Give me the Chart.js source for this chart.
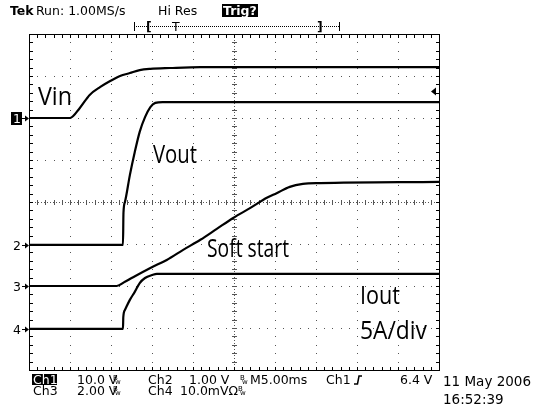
<!DOCTYPE html>
<html>
<head>
<meta charset="utf-8">
<script src="https://cdn.jsdelivr.net/npm/chart.js@4/dist/chart.umd.min.js"></script>
<style>
  html, body { margin: 0; padding: 0; background: #fff; }
  canvas { display: block; }
</style>
</head>
<body>
<canvas id="scope" width="535" height="405"></canvas>
<script>
// time base: 5 ms/div, 10 divisions
var timeMin = 0
var timeMax = 50

// Ch1 - Vin (10 V/div, ground 2.0 div above centre)
var vinTime = [0, 5.0, 6.2, 7.4, 8.7, 9.9, 11.1, 12.3, 13.5, 14.8, 17.2, 20.9, 50]
var vinVolts = [0, 0, 2.4, 5.5, 7.4, 8.8, 10.0, 10.7, 11.4, 11.7, 11.9, 12.1, 12.1]

// Ch2 - Vout (1 V/div)
var voutTime = [0, 11.46, 11.52, 11.7, 12.3, 12.9, 13.5, 14.15, 14.8, 15.4, 16.3, 50]
var voutVolts = [0, 0, 0.76, 1.02, 1.66, 2.21, 2.69, 3.04, 3.28, 3.38, 3.40, 3.40]

// Ch3 - soft start (2 V/div)
var ssTime = [0, 10.7, 11.7, 12.7, 14.8, 16.8, 18.8, 20.9, 22.9, 24.9, 27.0, 29.0, 30.2, 31.8, 33.4, 35.5, 50]
var ssVolts = [0, 0, 0.2, 0.42, 0.86, 1.24, 1.72, 2.2, 2.72, 3.24, 3.72, 4.2, 4.42, 4.72, 4.86, 4.9, 4.96]

// Ch4 - Iout (5 A/div)
var ioutTime = [0, 11.46, 11.5, 11.7, 12.3, 12.9, 13.5, 14.15, 15.0, 15.6, 50]
var ioutAmps = [0, 0, 1.4, 2.25, 3.45, 4.4, 5.45, 6.05, 6.4, 6.55, 6.55]

// channel settings: ground position (div) and units per division
var chNames = ['1', '2', '3', '4']
var chPos = [2.0, -1.02, -2.0, -3.02]
var chPerDiv = [10, 1, 2, 5]
var trigLevel = 6.4 // V on Ch1

var traceLabels = ['Vin', 'Vout', 'Soft start', 'Iout']

var toPoints = function(times, vals, ch){
  var pts = []
  for (let i = 0; i < times.length; i++) {
    pts.push({x: times[i], y: chPos[ch] + vals[i] / chPerDiv[ch]})
  }
  return pts
}

var trace = function(label, pts){
  return {
    label: label,
    data: pts,
    borderColor: '#000',
    borderWidth: 2.2,
    pointRadius: 0,
    fill: false,
    cubicInterpolationMode: 'monotone'
  }
}

var statusFont = '12.5px "DejaVu Sans"'
var noteFont = '26px "Open Sans", sans-serif'

var scopePlugin = {
  id: 'scope',
  beforeDatasetsDraw: function(chart){
    var ctx = chart.ctx, x = chart.scales.x, y = chart.scales.y
    var L = Math.round(x.getPixelForValue(timeMin)), R = Math.round(x.getPixelForValue(timeMax))
    var T = Math.round(y.getPixelForValue(4)), B = Math.round(y.getPixelForValue(-4))
    ctx.save()
    ctx.fillStyle = '#555'
    // dotted major grid
    for (let i = 1; i < 10; i++) {
      if (i == 5) continue
      let px = Math.round(x.getPixelForValue(i * 5))
      for (let j = 1; j < 40; j++) {
        ctx.fillRect(px, Math.round(y.getPixelForValue(-4 + j * 0.2)), 1, 1)
      }
    }
    for (let j = 1; j < 8; j++) {
      if (j == 4) continue
      let py = Math.round(y.getPixelForValue(-4 + j))
      for (let i = 1; i < 50; i++) {
        ctx.fillRect(Math.round(x.getPixelForValue(i)), py, 1, 1)
      }
    }
    // centre cross with minor ticks
    var cx = Math.round(x.getPixelForValue(25)), cy = Math.round(y.getPixelForValue(0))
    for (let p = L; p < R; p += 3) ctx.fillRect(p, cy, 1, 1)
    for (let p = T; p < B; p += 3) ctx.fillRect(cx, p, 1, 1)
    for (let i = 1; i < 50; i++) ctx.fillRect(Math.round(x.getPixelForValue(i)), cy - 2, 1, 5)
    for (let j = 1; j < 40; j++) ctx.fillRect(cx - 2, Math.round(y.getPixelForValue(-4 + j * 0.2)), 5, 1)
    // frame
    ctx.fillStyle = '#000'
    ctx.strokeStyle = '#000'
    ctx.lineWidth = 1
    ctx.strokeRect(L + 0.5, T + 0.5, R - L, B - T)
    for (let i = 1; i < 50; i++) {
      let px = Math.round(x.getPixelForValue(i))
      ctx.fillRect(px, T, 1, 4)
      ctx.fillRect(px, B - 3, 1, 4)
    }
    for (let j = 1; j < 40; j++) {
      let py = Math.round(y.getPixelForValue(-4 + j * 0.2))
      ctx.fillRect(L, py, 4, 1)
      ctx.fillRect(R - 3, py, 4, 1)
    }
    ctx.restore()
  },
  afterDraw: function(chart){
    var ctx = chart.ctx, x = chart.scales.x, y = chart.scales.y
    var L = Math.round(x.getPixelForValue(timeMin)), R = Math.round(x.getPixelForValue(timeMax))
    ctx.save()
    ctx.fillStyle = '#000'
    ctx.strokeStyle = '#000'
    ctx.textBaseline = 'alphabetic'

    // trace annotations (narrow face, squeezed like the original)
    ctx.font = noteFont
    ctx.fillText(traceLabels[0], 38, 105, 34)
    ctx.fillText(traceLabels[1], 153, 163, 44)
    ctx.fillText(traceLabels[2], 207, 257, 82)
    ctx.fillText(traceLabels[3], 360, 304, 40)
    ctx.fillText('5A/div', 360, 339, 67)

    // channel ground markers
    ctx.font = statusFont
    for (let k = 0; k < chNames.length; k++) {
      let py = Math.round(y.getPixelForValue(chPos[k]))
      if (k == 0) {
        ctx.fillRect(11, py - 6, 11, 13)
        ctx.fillStyle = '#fff'
        ctx.fillText(chNames[k], 13, py + 5)
        ctx.fillStyle = '#000'
      } else {
        ctx.fillText(chNames[k], 13, py + 5)
      }
      ctx.beginPath()
      ctx.moveTo(22, py + 0.5)
      ctx.lineTo(26, py + 0.5)
      ctx.stroke()
      ctx.beginPath()
      ctx.moveTo(L, py + 0.5)
      ctx.lineTo(L - 4, py - 2.5)
      ctx.lineTo(L - 4, py + 3.5)
      ctx.closePath()
      ctx.fill()
    }

    // trigger level marker
    var ty = Math.round(y.getPixelForValue(chPos[0] + trigLevel / chPerDiv[0]))
    ctx.beginPath()
    ctx.moveTo(R - 8, ty + 0.5)
    ctx.lineTo(R - 3, ty - 3.5)
    ctx.lineTo(R - 3, ty + 4.5)
    ctx.closePath()
    ctx.fill()

    // top status line
    ctx.font = 'bold ' + statusFont
    ctx.fillText('Tek', 10, 15)
    ctx.font = statusFont
    ctx.fillText('Run: 1.00MS/s', 36, 15)
    ctx.fillText('Hi Res', 158, 15)
    ctx.fillRect(222, 4, 36, 13)
    ctx.fillStyle = '#fff'
    ctx.font = 'bold ' + statusFont
    ctx.fillText('Trig?', 223, 15)
    ctx.fillStyle = '#000'

    // record length bar
    for (let p = 134; p <= 339; p += 2) ctx.fillRect(p, 26, 1, 1)
    ctx.fillRect(134, 22, 1, 9)
    ctx.fillRect(339, 22, 1, 9)
    ctx.font = 'bold ' + statusFont
    ctx.fillText('[', 146, 31)
    ctx.fillText(']', 317, 31)
    ctx.font = statusFont
    ctx.fillText('T', 172, 31)

    // bottom settings readout
    var bw = function(px, py){
      ctx.font = '7px "DejaVu Sans"'
      ctx.fillText('B', px, py - 4)
      ctx.fillText('w', px + 2, py)
      ctx.font = statusFont
    }
    ctx.font = statusFont
    ctx.fillRect(32, 374, 25, 11)
    ctx.fillStyle = '#fff'
    ctx.fillText('Ch1', 33, 384)
    ctx.fillStyle = '#000'
    ctx.fillText('10.0 V', 77, 384)
    bw(113, 384)
    ctx.fillText('Ch2', 148, 384)
    ctx.fillText('1.00 V', 189, 384)
    bw(240, 384)
    ctx.fillText('M5.00ms', 250, 384)
    ctx.fillText('Ch1', 326, 384)
    ctx.lineWidth = 1.5
    ctx.beginPath()
    ctx.moveTo(354, 384)
    ctx.lineTo(357.5, 384)
    ctx.lineTo(359, 376)
    ctx.lineTo(362, 376)
    ctx.stroke()
    ctx.fillText('6.4 V', 400, 384)

    ctx.fillText('Ch3', 33, 395)
    ctx.fillText('2.00 V', 77, 395)
    bw(113, 395)
    ctx.fillText('Ch4', 148, 395)
    ctx.fillText('10.0mV\u03A9', 180, 395)
    bw(238, 395)

    ctx.font = '13.5px "DejaVu Sans"'
    ctx.fillText('11 May 2006', 443, 386)
    ctx.fillText('16:52:39', 443, 404)
    ctx.restore()
  }
}

var ctx = document.getElementById('scope')

var scopeChart = new Chart(ctx, {
  type: 'line',
  data: {
    datasets: [
      trace(traceLabels[0], toPoints(vinTime, vinVolts, 0)),
      trace(traceLabels[1], toPoints(voutTime, voutVolts, 1)),
      trace(traceLabels[2], toPoints(ssTime, ssVolts, 2)),
      trace(traceLabels[3], toPoints(ioutTime, ioutAmps, 3))
    ]
  },
  options: {
    responsive: false,
    devicePixelRatio: 1,
    animation: false,
    layout: {
      padding: {left: 29, right: 96, top: 34, bottom: 35}
    },
    scales: {
      x: {type: 'linear', min: timeMin, max: timeMax, display: false},
      y: {type: 'linear', min: -4, max: 4, display: false}
    },
    plugins: {
      legend: {display: false},
      tooltip: {enabled: false}
    }
  },
  plugins: [scopePlugin]
});
</script>
</body>
</html>
